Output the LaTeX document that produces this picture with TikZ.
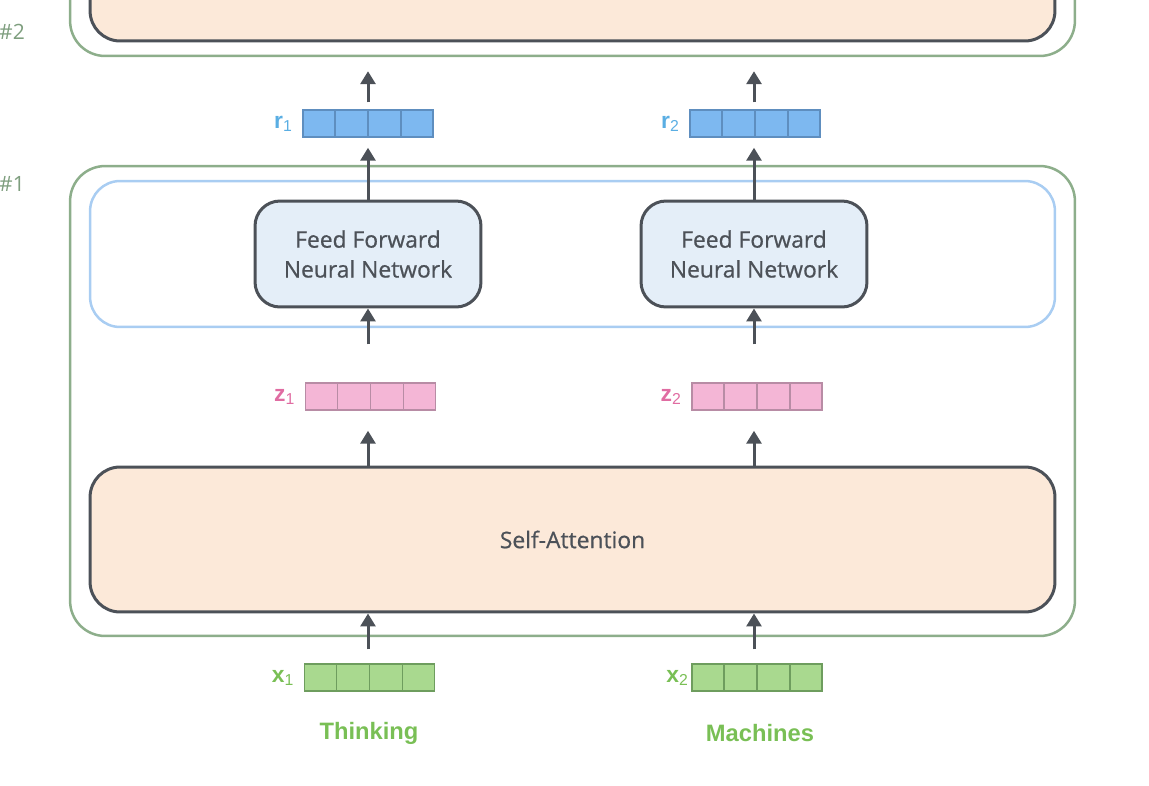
\documentclass[tikz,border=0pt]{standalone}
\usepackage{fontspec}
\setmainfont{Open Sans}
\newfontfamily\boxfont{Open Sans}[FakeBold=0.7]
\newfontfamily\lblfont{Liberation Sans}
\usepackage{tikz}
\usetikzlibrary{arrows.meta,positioning,calc}

\definecolor{encgreen}{HTML}{8DAE8B}
\definecolor{ffnblue}{HTML}{A9CDF2}
\definecolor{ffnfill}{HTML}{E4EEF8}
\definecolor{safill}{HTML}{FCE9D9}
\definecolor{boxline}{HTML}{4C5158}
\definecolor{rfill}{HTML}{7DB8F0}
\definecolor{rline}{HTML}{5E8EBF}
\definecolor{rtext}{HTML}{5AAEE3}
\definecolor{zfill}{HTML}{F4B6D6}
\definecolor{zline}{HTML}{B88CA5}
\definecolor{ztext}{HTML}{E06CA2}
\definecolor{xfill}{HTML}{A9D98F}
\definecolor{xline}{HTML}{6E9D5E}
\definecolor{xtext}{HTML}{79BF55}
\definecolor{numtext}{HTML}{7E9E7E}

\tikzset{
  encbox/.style={draw=encgreen, line width=0.05cm, rounded corners=0.7cm, minimum width=20.1cm},
  layerbox/.style={draw=boxline, line width=0.06cm, rounded corners=0.6cm, fill=safill, minimum width=19.3cm},
  ffnbox/.style={draw=boxline, line width=0.06cm, rounded corners=0.5cm, fill=ffnfill,
    minimum width=4.52cm, minimum height=2.12cm, align=center, text=boxline,
    font=\boxfont\fontsize{13}{17}\selectfont},
  vecbox/.style={draw=#1line, fill=#1fill, line width=0.03cm, minimum width=2.6cm, minimum height=0.54cm, inner sep=0pt},
  veclbl/.style={text=#1text, font=\lblfont\bfseries\fontsize{13}{15}\selectfont, anchor=east, inner sep=0pt},
  word/.style={text=xtext, font=\lblfont\bfseries\fontsize{13.5}{16}\selectfont},
  num/.style={text=numtext, font=\fontsize{12}{14}\selectfont},
  arr/.style={draw=boxline, line width=0.06cm, -{Triangle[width=0.3cm,length=0.26cm]}}
}

\begin{document}
\begin{tikzpicture}[x=0.02cm, y=-0.02cm]
\useasboundingbox (0,0) rectangle (1149,785);

\begin{scope}
\clip (0,0) rectangle (1149,785);
\node[encbox, minimum height=7.12cm] (enc2) at (572.5,-122) {};
\node[layerbox, minimum height=6.42cm] (sa2) at (572.5,-119.5) {};
\end{scope}

\node[num] (n2) at (12,32) {\#2};
\node[num] (n1) at (12,184) {\#1};

\node[encbox, minimum height=9.4cm] (enc1) at (572.5,401) {};
\node[draw=ffnblue, line width=0.05cm, rounded corners=0.6cm, minimum width=19.3cm, minimum height=2.92cm] (ffnlayer) at (572.5,254) {};

\node[ffnbox] (ffn1) at (368,254) {Feed Forward\\Neural Network};
\node[ffnbox] (ffn2) at (754,254) {Feed Forward\\Neural Network};

\node[layerbox, minimum height=2.9cm, text=boxline, font=\boxfont\fontsize{13}{15}\selectfont] (sa) at (572.5,539.5) {Self-Attention};

\node[vecbox=r] (r1) at (368,123.5) {};
\node[vecbox=r] (r2) at (755,123.5) {};
\node[vecbox=z] (z1) at (370.5,396.5) {};
\node[vecbox=z] (z2) at (757,396.5) {};
\node[vecbox=x] (x1) at (369.5,677.5) {};
\node[vecbox=x] (x2) at (757,677.5) {};

\foreach \v/\c in {r1/rline, r2/rline, z1/zline, z2/zline, x1/xline, x2/xline}
 \foreach \i in {1,2,3}
  \draw[draw=\c, line width=0.03cm] ($(\v.south west)!\i/4!(\v.south east)$) -- ($(\v.north west)!\i/4!(\v.north east)$);

\node[veclbl=r, left=0.2cm of r1] (r1l) {r\raisebox{-0.25ex}{\mdseries\fontsize{9}{9}\selectfont 1}};
\node[veclbl=r, left=0.2cm of r2] (r2l) {r\raisebox{-0.25ex}{\mdseries\fontsize{9}{9}\selectfont 2}};
\node[veclbl=z, left=0.2cm of z1] (z1l) {z\raisebox{-0.25ex}{\mdseries\fontsize{9}{9}\selectfont 1}};
\node[veclbl=z, left=0.2cm of z2] (z2l) {z\raisebox{-0.25ex}{\mdseries\fontsize{9}{9}\selectfont 2}};
\node[veclbl=x, left=0.2cm of x1] (x1l) {x\raisebox{-0.25ex}{\mdseries\fontsize{9}{9}\selectfont 1}};
\node[veclbl=x, left=0.06cm of x2] (x2l) {x\raisebox{-0.25ex}{\mdseries\fontsize{9}{9}\selectfont 2}};

\node[word] (w1) at (369,733) {Thinking};
\node[word] (w2) at (760,733) {Machines};

\foreach \c/\r in {1/r1, 2/r2}
{
 \draw[arr, shorten <=0.14cm, shorten >=0.28cm] (\r.north -| ffn\c) -- (enc2.south -| ffn\c);
 \draw[arr, shorten >=0.2cm] (ffn\c.north) -- (\r.south -| ffn\c);
}
\foreach \c/\z in {1/z1, 2/z2}
{
 \draw[arr, shorten <=0.76cm] (\z.north -| ffn\c) -- (ffn\c.south);
 \draw[arr, shorten >=0.4cm] (sa.north -| ffn\c) -- (\z.south -| ffn\c);
}
\foreach \c/\x in {1/x1, 2/x2}
 \draw[arr, shorten <=0.28cm] (\x.north -| ffn\c) -- (sa.south -| ffn\c);

\end{tikzpicture}
\end{document}
